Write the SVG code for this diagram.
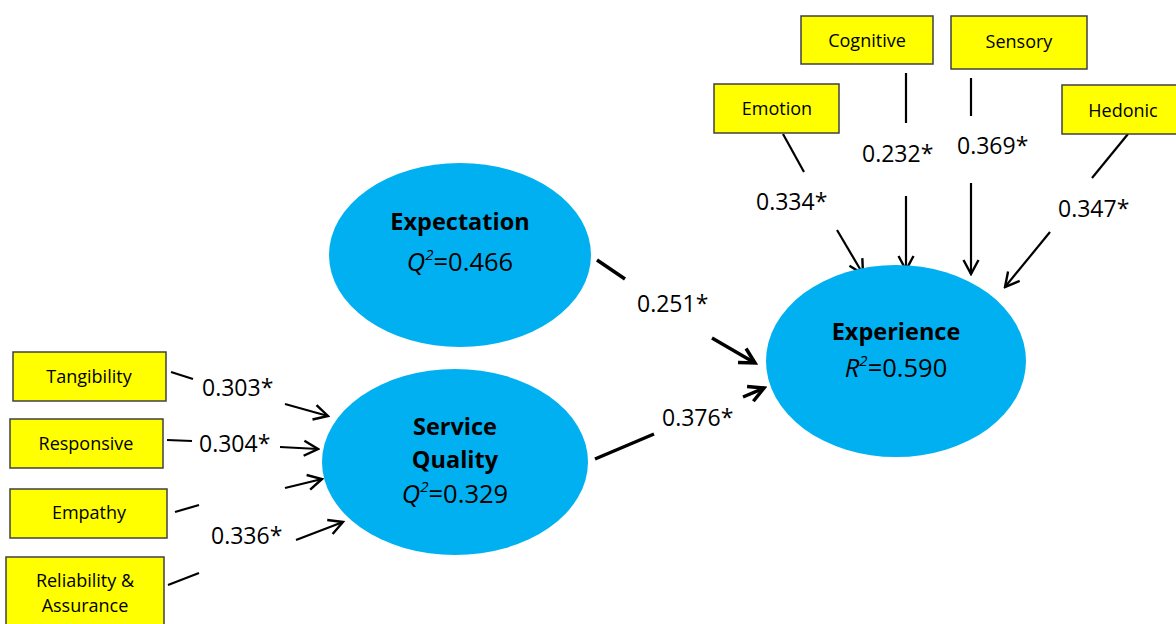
<svg xmlns="http://www.w3.org/2000/svg" width="1176" height="624" viewBox="0 0 1176 624">
<style>
.box{fill:#FFFF00;stroke:#404040;stroke-width:1.5}
.ell{fill:#00B0F0}
.bl{font-family:"Open Sans","Liberation Sans",sans-serif;font-size:18px;fill:#000;text-anchor:middle}
.num{font-family:"Open Sans","Liberation Sans",sans-serif;font-size:23px;fill:#000}
.et{font-family:"Open Sans","Liberation Sans",sans-serif;font-size:23.5px;font-weight:bold;fill:#000;text-anchor:middle}
.es{font-family:"Open Sans","Liberation Sans",sans-serif;font-size:25.5px;fill:#000;text-anchor:middle}
.c{stroke:#000;stroke-width:2.2;fill:none}
.ct{stroke:#000;stroke-width:3.5;fill:none}
</style>
<defs>
<marker id="ah" viewBox="0 0 18 18" markerWidth="18" markerHeight="18" refX="16" refY="9" orient="auto" markerUnits="userSpaceOnUse">
<path d="M2,1.5 L16,9 L2,16.5" fill="none" stroke="#000" stroke-width="2.4"/>
</marker>
<marker id="aht" viewBox="0 0 20 20" markerWidth="20" markerHeight="20" refX="17" refY="10" orient="auto" markerUnits="userSpaceOnUse">
<path d="M2,2 L17,10 L2,18" fill="none" stroke="#000" stroke-width="3.5"/>
</marker>
</defs>
<rect width="1176" height="624" fill="#fff"/>

<g id="connectors">
<line class="c" x1="171" y1="372" x2="193" y2="379"/>
<line class="c" x1="285" y1="404" x2="328" y2="416" marker-end="url(#ah)"/>
<line class="c" x1="167" y1="440" x2="192" y2="441"/>
<line class="c" x1="280" y1="447" x2="318" y2="449" marker-end="url(#ah)"/>
<line class="c" x1="175" y1="512" x2="199" y2="505"/>
<line class="c" x1="285" y1="488" x2="322" y2="479" marker-end="url(#ah)"/>
<line class="c" x1="168" y1="585" x2="199" y2="573"/>
<line class="c" x1="296" y1="540" x2="343" y2="522" marker-end="url(#ah)"/>
<line class="ct" x1="597" y1="260" x2="625" y2="279"/>
<line class="ct" x1="712" y1="338" x2="755" y2="363" marker-end="url(#aht)"/>
<line class="ct" x1="595" y1="459" x2="654" y2="434"/>
<line class="ct" x1="743" y1="397" x2="764" y2="388" marker-end="url(#aht)"/>
<line class="c" x1="783" y1="134" x2="804" y2="172"/>
<line class="c" x1="837" y1="230" x2="863" y2="274" marker-end="url(#ah)"/>
<line class="c" x1="906" y1="73" x2="906" y2="123"/>
<line class="c" x1="906" y1="196" x2="906" y2="270" marker-end="url(#ah)"/>
<line class="c" x1="971" y1="78" x2="971" y2="116"/>
<line class="c" x1="971" y1="183" x2="971" y2="274" marker-end="url(#ah)"/>
<line class="c" x1="1128" y1="134" x2="1092" y2="178"/>
<line class="c" x1="1050" y1="232" x2="1005" y2="287" marker-end="url(#ah)"/>
<text class="num" x="202" y="396">0.303*</text>
<text class="num" x="199" y="452">0.304*</text>
<text class="num" x="211" y="544">0.336*</text>
<text class="num" x="637" y="312">0.251*</text>
<text class="num" x="662" y="426">0.376*</text>
<text class="num" x="756" y="210">0.334*</text>
<text class="num" x="862" y="162">0.232*</text>
<text class="num" x="957" y="154">0.369*</text>
<text class="num" x="1058" y="217">0.347*</text>
</g>

<g id="tangibility"><rect class="box" x="13" y="352" width="153" height="49"/><text class="bl" x="89" y="383">Tangibility</text></g>
<g id="responsive"><rect class="box" x="10" y="419" width="153" height="49"/><text class="bl" x="86" y="450">Responsive</text></g>
<g id="empathy"><rect class="box" x="10" y="489" width="157" height="49"/><text class="bl" x="89" y="519">Empathy</text></g>
<g id="reliability"><rect class="box" x="6" y="557" width="158" height="80"/><text class="bl" x="85" y="587">Reliability &amp;</text><text class="bl" x="85" y="612">Assurance</text></g>

<g id="emotion"><rect class="box" x="714" y="84" width="125" height="49"/><text class="bl" x="777" y="115">Emotion</text></g>
<g id="cognitive"><rect class="box" x="801" y="16" width="132" height="48"/><text class="bl" x="867" y="47">Cognitive</text></g>
<g id="sensory"><rect class="box" x="951" y="16" width="136" height="53"/><text class="bl" x="1019" y="48">Sensory</text></g>
<g id="hedonic"><rect class="box" x="1062" y="85" width="120" height="49"/><text class="bl" x="1123" y="117">Hedonic</text></g>

<g id="expectation"><ellipse class="ell" cx="460" cy="255" rx="131" ry="92"/>
<text class="et" x="460" y="230">Expectation</text>
<text class="es" x="460" y="271"><tspan font-style="italic">Q</tspan><tspan font-size="15" dy="-11" font-style="italic">2</tspan><tspan dy="11">=0.466</tspan></text></g>

<g id="service-quality"><ellipse class="ell" cx="455" cy="462" rx="133" ry="93"/>
<text class="et" x="455" y="435">Service</text>
<text class="et" x="455" y="468">Quality</text>
<text class="es" x="455" y="503"><tspan font-style="italic">Q</tspan><tspan font-size="15" dy="-11" font-style="italic">2</tspan><tspan dy="11">=0.329</tspan></text></g>

<g id="experience"><ellipse class="ell" cx="896" cy="361" rx="130" ry="96"/>
<text class="et" x="896" y="340">Experience</text>
<text class="es" x="896" y="377"><tspan font-style="italic">R</tspan><tspan font-size="15" dy="-11" font-style="italic">2</tspan><tspan dy="11">=0.590</tspan></text></g>
</svg>
